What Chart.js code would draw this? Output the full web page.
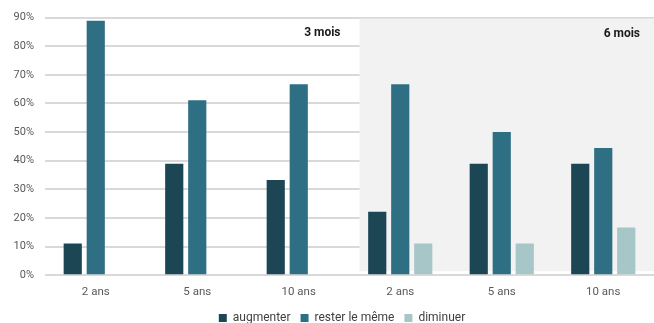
<!DOCTYPE html>
<html lang="fr">
<head>
<meta charset="utf-8">
<script src="https://cdn.jsdelivr.net/npm/chart.js@4/dist/chart.umd.min.js"></script>
<style>
  html, body { margin: 0; padding: 0; background: #ffffff; }
  #wrap { width: 654px; height: 323px; position: relative; }
</style>
</head>
<body>
<div id="wrap"><canvas id="c"></canvas></div>
<script>
// Horizons and answer shares (%)
const categories = ["2 ans", "5 ans", "10 ans", "2 ans", "5 ans", "10 ans"];
const augmenter = [11.1, 38.9, 33.3, 22.2, 38.9, 38.9];
const resterLeMeme = [88.9, 61.1, 66.7, 66.7, 50.0, 44.4];
const diminuer = [0, 0, 0, 11.1, 11.1, 16.7];
const periodLabels = ["3 mois", "6 mois"];
const yTicks = [0, 10, 20, 30, 40, 50, 60, 70, 80, 90];

const FONT = "Roboto, 'Noto Sans', sans-serif";
const LEGEND_PAD = 10;

// Shaded panel for the second period plus the period captions
const panelPlugin = {
  id: "periodPanels",
  afterLayout(chart) {
    // nudge the legend right and close to the bottom edge
    const lg = chart.legend;
    if (!lg) return;
    const dx = 15;
    lg.left += dx; lg.right += dx;
    const h = lg.bottom - lg.top;
    lg.top = 318 - LEGEND_PAD - 6;
    lg.bottom = lg.top + h;
  },
  beforeDatasetsDraw(chart) {
    const { ctx, chartArea, scales } = chart;
    const x = scales.x;
    const boundary = (x.getPixelForValue(2) + x.getPixelForValue(3)) / 2;
    ctx.save();
    ctx.fillStyle = "#f2f2f2";
    ctx.fillRect(boundary + 10, chartArea.top + 1, chartArea.right - boundary - 10, chartArea.bottom - chartArea.top - 5);
    ctx.restore();
  },
  afterDatasetsDraw(chart) {
    const { ctx, chartArea, scales } = chart;
    const x = scales.x;
    const boundary = (x.getPixelForValue(2) + x.getPixelForValue(3)) / 2;
    ctx.save();
    ctx.fillStyle = "#1a1a1a";
    ctx.font = "bold 12px " + FONT;
    ctx.textAlign = "right";
    ctx.textBaseline = "middle";
    ctx.fillText(periodLabels[0], boundary - 9, chartArea.top + 15);
    ctx.fillText(periodLabels[1], chartArea.right - 14, chartArea.top + 16);
    ctx.restore();
  }
};

new Chart(document.getElementById("c"), {
  type: "bar",
  data: {
    labels: categories,
    datasets: [
      { label: "augmenter", data: augmenter, backgroundColor: "#1d4655" },
      { label: "rester le même", data: resterLeMeme, backgroundColor: "#2e6f84" },
      { label: "diminuer", data: diminuer, backgroundColor: "#a7c6c8" }
    ]
  },
  options: {
    responsive: true,
    maintainAspectRatio: false,
    animation: false,
    layout: { padding: { left: 0, right: 0, top: 12, bottom: -18 } },
    datasets: { bar: { categoryPercentage: 0.68, barPercentage: 0.79 } },
    scales: {
      x: {
        grid: { display: false, drawTicks: false },
        border: { display: false },
        ticks: { color: "#595959", font: { family: FONT, size: 11.5 }, padding: 10 }
      },
      y: {
        min: 0,
        max: 90,
        afterFit(scale) { scale.width = 45; },
        afterBuildTicks(scale) { scale.ticks = yTicks.map(v => ({ value: v })); },
        grid: { color: "#d9d9d9", lineWidth: 2, drawTicks: false },
        border: { display: false },
        ticks: {
          color: "#595959",
          font: { family: FONT, size: 11 },
          padding: 11,
          callback: v => v + "%"
        }
      }
    },
    plugins: {
      legend: {
        position: "bottom",
        labels: {
          boxWidth: 8,
          boxHeight: 8,
          padding: LEGEND_PAD,
          color: "#404040",
          font: { family: FONT, size: 12 }
        }
      },
      tooltip: { enabled: false }
    }
  },
  plugins: [panelPlugin]
});
</script>
</body>
</html>
